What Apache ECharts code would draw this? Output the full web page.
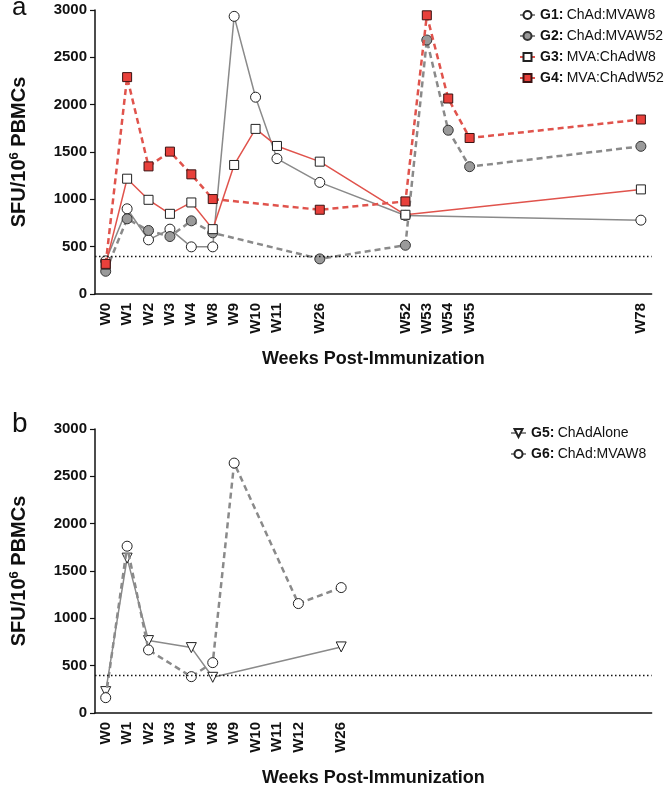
<!DOCTYPE html>
<html>
<head>
<meta charset="utf-8">
<script src="https://cdn.jsdelivr.net/npm/echarts@6/dist/echarts.min.js"></script>
<style>html,body{margin:0;padding:0;background:#fff}#c{width:668px;height:789px}</style>
</head>
<body>
<div id="c"></div>
<script>
// ---- Data ----
const slotsA = ['W0','W1','W2','W3','W4','W8','W9','W10','W11','','W26','','','','W52','W53','W54','W55','','','','','','','','W78'];
const slotsB = ['W0','W1','W2','W3','W4','W8','W9','W10','W11','W12','','W26','','','','','','','','','','','','','',''];
const yTicks = [0, 500, 1000, 1500, 2000, 2500, 3000];
const threshold = 400;

const weeksG1 = ['W0','W1','W2','W3','W4','W8','W9','W10','W11','W26','W52','W78'];
const valsG1  = [350, 900, 572, 685, 498, 498, 2933, 2079, 1430, 1179, 830, 780];
const weeksG2 = ['W0','W1','W2','W3','W4','W8','W26','W52','W53','W54','W55','W78'];
const valsG2  = [240, 794, 671, 607, 773, 646, 371, 515, 2683, 1730, 1345, 1560];
const weeksG3 = ['W0','W1','W2','W3','W4','W8','W9','W10','W11','W26','W52','W78'];
const valsG3  = [310, 1218, 995, 847, 967, 685, 1363, 1744, 1564, 1398, 837, 1105];
const weeksG4 = ['W0','W1','W2','W3','W4','W8','W26','W52','W53','W54','W55','W78'];
const valsG4  = [318, 2291, 1348, 1504, 1264, 1003, 890, 978, 2944, 2065, 1648, 1843];

const weeksG5 = ['W0','W1','W2','W4','W8','W26'];
const valsG5  = [226, 1636, 765, 691, 377, 698];
const weeksG6 = ['W0','W1','W2','W4','W8','W9','W12','W26'];
const valsG6  = [162, 1762, 666, 384, 532, 2640, 1156, 1325];

const groupNames = ['G1','G2','G3','G4','G5','G6'];
const groupDesc  = ['ChAd:MVAW8','ChAd:MVAW52','MVA:ChAdW8','MVA:ChAdW52','ChAdAlone','ChAd:MVAW8'];

// ---- Build ----
const FF = '"Liberation Sans", Arial, Helvetica, sans-serif';
function pts(slots, weeks, vals){ return weeks.map((w,i)=>[slots.indexOf(w), vals[i]]); }

const GRAY = '#8a8a8a', RED = '#e0534c';
function xAxis(slots, gi){
  return {
    type:'category', gridIndex:gi, data:slots, boundaryGap:true,
    axisLine:{lineStyle:{color:'#111', width:1.5}},
    axisTick:{alignWithLabel:true, length:5, lineStyle:{color:'#111', width:1.2},
      interval:(idx)=>slots[idx] !== ''},
    axisLabel:{interval:0, rotate:90, margin:9, color:'#111', fontFamily:FF, fontWeight:'bold', fontSize:15},
    name:'Weeks Post-Immunization', nameLocation:'middle', nameGap:56,
    nameTextStyle:{color:'#111', fontFamily:FF, fontWeight:'bold', fontSize:18},
    splitLine:{show:false}
  };
}
function yAxis(gi){
  return {
    type:'value', gridIndex:gi, min:yTicks[0], max:yTicks[yTicks.length-1], interval:yTicks[1]-yTicks[0],
    axisLine:{show:true, lineStyle:{color:'#111', width:1.5}},
    axisTick:{show:true, length:5, lineStyle:{color:'#111', width:1.2}},
    axisLabel:{margin:8, color:'#111', fontFamily:FF, fontWeight:'bold', fontSize:15, formatter:(v)=>String(v)},
    splitLine:{show:false},
    name:'{a|SFU/10}{s|6}{a| PBMCs}', nameLocation:'middle', nameGap:64,
    nameTextStyle:{color:'#111', rich:{
      a:{fontFamily:FF, fontWeight:'bold', fontSize:20, color:'#111'},
      s:{fontFamily:FF, fontWeight:'bold', fontSize:13, color:'#111', verticalAlign:'top', padding:[0,0,10,0]}
    }}
  };
}
const thresholdLine = {silent:true, symbol:'none', label:{show:false},
  lineStyle:{color:'#111', type:[1.5,2.5], width:1.3}, data:[{yAxis:threshold}]};

function series(name, gi, slots, weeks, vals, o){
  return Object.assign({name, type:'line', xAxisIndex:gi, yAxisIndex:gi, data:pts(slots,weeks,vals)}, o);
}
const legendText = {lineHeight:16, rich:{b:{fontFamily:FF, fontWeight:'bold', fontSize:14, color:'#111'}, n:{fontFamily:FF, fontSize:14, color:'#111'}}};

const option = {
  animation:false,
  backgroundColor:'#fff',
  grid:[
    {left:90, top:10, width:561.6, height:284},
    {left:90, top:429, width:561.6, height:284}
  ],
  xAxis:[xAxis(slotsA,0), xAxis(slotsB,1)],
  yAxis:[yAxis(0), yAxis(1)],
  legend:[
    {data:groupNames.slice(0,4), orient:'vertical', left:514, top:2, itemWidth:15, itemHeight:10, itemGap:5,
     formatter:(n)=>`{b|${n}:} {n|${groupDesc[groupNames.indexOf(n)]}}`, textStyle:legendText},
    {data:groupNames.slice(4), orient:'vertical', left:505, top:420, itemWidth:15, itemHeight:10, itemGap:5,
     formatter:(n)=>`{b|${n}:} {n|${groupDesc[groupNames.indexOf(n)]}}`, textStyle:legendText}
  ],
  graphic:[
    {type:'text', left:12, top:-5, style:{text:'a', font:'26px '+FF, fill:'#111'}},
    {type:'text', left:12, top:410, style:{text:'b', font:'28px '+FF, fill:'#111'}}
  ],
  series:[
    series('G1',0,slotsA,weeksG1,valsG1,{symbol:'circle', symbolSize:10,
      lineStyle:{color:GRAY, width:1.5}, itemStyle:{color:'#fff', borderColor:'#222', borderWidth:1}, markLine:thresholdLine, z:2}),
    series('G2',0,slotsA,weeksG2,valsG2,{symbol:'circle', symbolSize:10,
      lineStyle:{color:GRAY, width:2.5, type:[6,4]}, itemStyle:{color:'#9a9a9a', borderColor:'#333', borderWidth:1}, z:3}),
    series('G3',0,slotsA,weeksG3,valsG3,{symbol:'rect', symbolSize:9,
      lineStyle:{color:RED, width:1.5}, itemStyle:{color:'#fff', borderColor:'#222', borderWidth:1}, z:4}),
    series('G4',0,slotsA,weeksG4,valsG4,{symbol:'rect', symbolSize:9,
      lineStyle:{color:RED, width:2.5, type:[6,4]}, itemStyle:{color:'#e8403b', borderColor:'#3a1212', borderWidth:1}, z:5}),
    series('G5',1,slotsB,weeksG5,valsG5,{symbol:'triangle', symbolRotate:180, symbolSize:10,
      lineStyle:{color:GRAY, width:1.5}, itemStyle:{color:'#fff', borderColor:'#222', borderWidth:1}, markLine:thresholdLine, z:2}),
    series('G6',1,slotsB,weeksG6,valsG6,{symbol:'circle', symbolSize:10,
      lineStyle:{color:GRAY, width:2.5, type:[6,4]}, itemStyle:{color:'#fff', borderColor:'#222', borderWidth:1}, z:3})
  ]
};
echarts.init(document.getElementById('c'), null, {renderer:'canvas'}).setOption(option);
</script>
</body>
</html>
